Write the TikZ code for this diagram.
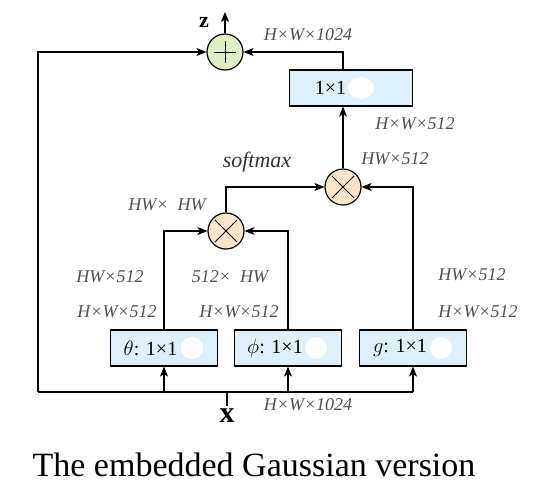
\documentclass[tikz,border=0pt]{standalone}
\usepackage{fontspec}
\setmainfont{Liberation Serif}
\usetikzlibrary{arrows.meta, positioning}
\definecolor{convblue}{RGB}{222,240,252}
\definecolor{sumgreen}{RGB}{224,238,196}
\definecolor{prodpeach}{RGB}{253,229,202}
\definecolor{dimgray}{RGB}{80,80,80}

\begin{document}
\begin{tikzpicture}[
        x=1pt, y=-1pt,
        conv/.style={draw, line width=1.2pt, fill=convblue, minimum width=107pt, minimum height=36pt, inner sep=0pt, font=\fontsize{20}{20}\selectfont},
        op/.style={draw, circle, line width=1.2pt, minimum size=36pt, inner sep=0pt},
        dim/.style={font=\fontsize{18}{18}\selectfont\itshape, text=dimgray},
        link/.style={-{Stealth[length=10pt, width=8pt, inset=2.5pt]}, line width=1.1pt},
        wire/.style={line width=1.1pt},
      ]
      \useasboundingbox (0,0) rectangle (533,488);
      \node[op, fill=sumgreen] (sum) at (225,52) {};
      \node[op, fill=prodpeach] (prod1) at (226,231) {};
      \node[op, fill=prodpeach] (prod2) at (343,187) {};
      \node[conv, minimum width=123pt] (proj) at (351,88) {1×1\rule{41pt}{0pt}};
      \node[conv] (theta) at (164,348) {$\theta$: 1×1\rule{27pt}{0pt}};
      \node[conv] (phi) at (288,348) {$\phi$: 1×1\rule{26pt}{0pt}};
      \node[conv] (g) at (413,348) {$g$: 1×1\rule{26pt}{0pt}};
      \fill[white] (proj.center) ++(10,0) ellipse (13 and 11);
      \foreach \b in {theta,phi,g}
        \fill[white] (\b.center) ++(28,0) ellipse (11 and 11);
      \draw[line width=1pt] (sum.center) +(-11,0) -- +(11,0) (sum.center) +(0,-11) -- +(0,11);
      \foreach \p in {prod1,prod2}
        \draw[line width=1pt] (\p.center) +(-11,-11) -- +(11,11) (\p.center) +(-11,11) -- +(11,-11);

      \node[font=\bfseries\fontsize{22}{22}\selectfont] (zlab) at (204,22) {z};
      \node[font=\bfseries\fontsize{30}{30}\selectfont] (xlab) at (227,416) {x};
      \coordinate (zout) at (225,12);
      \coordinate (bus) at (227,392);
      \coordinate (busleft) at (38,392);
      \coordinate (skip) at (38,52);

      \draw[wire] (xlab.north) -- (bus);
      \draw[wire] (busleft) -- (g.south |- bus);
      \draw[link] (busleft) -- (skip) -- (sum.west);
      \foreach \b in {theta,phi,g}
        \draw[link] (\b.south |- bus) -- (\b.south);
      \draw[link] (theta.north) |- (prod1.west);
      \draw[link] (phi.north) |- (prod1.east);
      \draw[link] (prod1.north) |- (prod2.west);
      \draw[link] (g.north) |- (prod2.east);
      \draw[link] (prod2.north) -- (prod2.north |- proj.south);
      \draw[link] (prod2.north |- proj.north) |- (sum.east);
      \draw[link] (sum.north) -- (zout);

      \node[dim] (d1) at (308,35) {H×W×1024};
      \node[dim] (d2) at (415,124) {H×W×512};
      \node[dim] (d3) at (395,159) {HW×512};
      \node[dim, text=black!80, font=\fontsize{22}{22}\selectfont\itshape] (soft) at (257,162) {softmax};
      \node[dim] (d4) at (167,205) {HW×\ \ HW};
      \node[dim] (d5) at (110,277) {HW×512};
      \node[dim] (d6) at (117,312) {H×W×512};
      \node[dim] (d7) at (230,277) {512×\ \ HW};
      \node[dim] (d8) at (239,312) {H×W×512};
      \node[dim] (d9) at (472,275) {HW×512};
      \node[dim] (d10) at (478,312) {H×W×512};
      \node[dim] (d11) at (308,405) {H×W×1024};
      \node[font=\fontsize{34}{34}\selectfont] (caption) at (254,465) {The embedded Gaussian version};
    \end{tikzpicture}
\end{document}
